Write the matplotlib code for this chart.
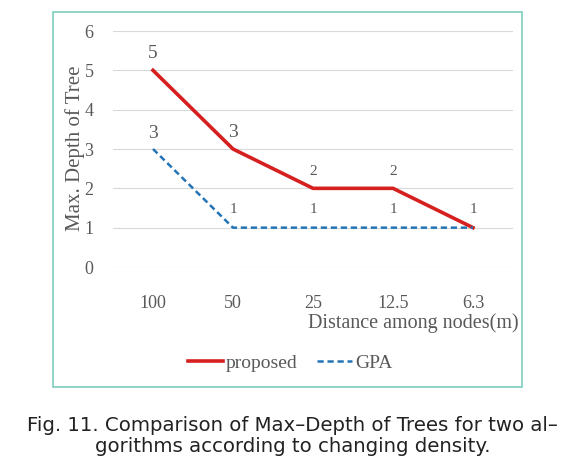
import matplotlib.pyplot as plt
from matplotlib.patches import Rectangle

# Data
distances = ['100', '50', '25', '12.5', '6.3']
proposed = [5, 3, 2, 2, 1]
gpa = [3, 1, 1, 1, 1]

fig = plt.figure(figsize=(5.85, 4.68), dpi=100)
W, H = 585, 468

# Outer chart frame
frame = Rectangle((53 / W, 1 - 387 / H), (522 - 53) / W, (387 - 12) / H,
                  transform=fig.transFigure, fill=False, edgecolor='#7fcdbf', lw=1.2)
fig.patches.append(frame)

ax = fig.add_axes([113 / W, 1 - 267 / H, 400 / W, 236 / H])
x = list(range(len(distances)))
ax.plot(x, proposed, color='#d62020', lw=2.6, label='proposed')
ax.plot(x, gpa, color='#2474b5', lw=1.8, ls=(0, (2.5, 1.5)), label='GPA')

serif = 'Liberation Serif'
grey = '#595959'

# Data labels (one label where both series meet)
for i, v in enumerate(proposed):
    if v == gpa[i] and i == len(proposed) - 1:
        continue
    big = i < 2
    ax.text(i, v + 0.42, str(v), ha='center', va='center', family=serif,
            fontsize=14 if big else 11, color=grey)
for i, v in enumerate(gpa):
    big = i == 0
    ax.text(i, v + (0.4 if big else 0.45), str(v), ha='center', va='center', family=serif,
            fontsize=14 if big else 11, color=grey)

ax.set_xlim(-0.5, 4.5)
ax.set_ylim(0, 6)
ax.set_yticks(range(7))
ax.set_xticks(x)
ax.set_xticklabels(distances)
ax.yaxis.grid(True, color='#d9d9d9', lw=0.8)
ax.set_axisbelow(True)
for s in ax.spines.values():
    s.set_visible(False)
ax.tick_params(length=0, labelcolor=grey, labelsize=13, pad=14)
ax.tick_params(axis='x', pad=20)
for lab in ax.get_xticklabels() + ax.get_yticklabels():
    lab.set_family(serif)

fig.text(75 / W, 1 - 148 / H, 'Max. Depth of Tree', rotation=90, ha='center', va='center',
         family=serif, fontsize=15, color=grey)
fig.text(519 / W, 1 - 323 / H, 'Distance among nodes(m)', ha='right', va='center',
         family=serif, fontsize=14.5, color=grey)

leg = fig.legend(loc='center', bbox_to_anchor=(290 / W, 1 - 363 / H), ncol=2, frameon=False,
                 prop={'family': serif, 'size': 14}, handlelength=1.8, handletextpad=0.15,
                 columnspacing=1.0)
for t in leg.get_texts():
    t.set_color(grey)

fig.text(0.5, 1 - 436 / H, 'Fig. 11. Comparison of Max\u2013Depth of Trees for two al\u2013\n'
         'gorithms according to changing density.', ha='center', va='center',
         family='DejaVu Sans', fontsize=14.2, color='#222222',
         linespacing=1.15)

plt.savefig('out.png', dpi=100)
